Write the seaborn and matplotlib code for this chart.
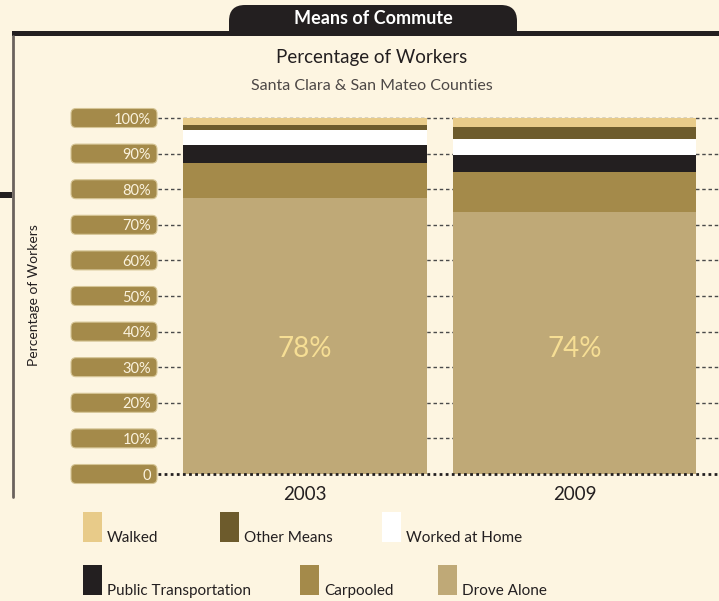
import numpy as np
import pandas as pd
import matplotlib.pyplot as plt
import seaborn as sns
from matplotlib.patches import FancyBboxPatch, Rectangle

# 数据
years = ['2003', '2009']
drove_alone = [77.6, 73.6]
carpooled = [9.9, 11.1]
public_transport = [4.8, 4.8]
worked_at_home = [4.2, 4.7]
other_means = [1.4, 3.4]
walked = [2.1, 2.4]

y_ticks = [0, 10, 20, 30, 40, 50, 60, 70, 80, 90, 100]
y_tick_labels = ['0', '10%', '20%', '30%', '40%', '50%', '60%', '70%', '80%', '90%', '100%']

# 从下往上的堆叠顺序
stack_order = ['Drove Alone', 'Carpooled', 'Public Transportation',
               'Worked at Home', 'Other Means', 'Walked']
series = {
    'Drove Alone': drove_alone,
    'Carpooled': carpooled,
    'Public Transportation': public_transport,
    'Worked at Home': worked_at_home,
    'Other Means': other_means,
    'Walked': walked,
}
colors = {
    'Walked': '#E8CB89',
    'Other Means': '#6D5B2C',
    'Worked at Home': '#FFFFFF',
    'Public Transportation': '#231F20',
    'Carpooled': '#A48A4A',
    'Drove Alone': '#BFA977',
}
legend_order = ['Walked', 'Other Means', 'Worked at Home',
                'Public Transportation', 'Carpooled', 'Drove Alone']

sns.set_style('white')
plt.rcParams['font.family'] = ['Lato', 'DejaVu Sans']

W, H = 719, 601
bg = '#FDF5E1'
dark = '#231F20'
fig = plt.figure(figsize=(W / 100, H / 100), dpi=100, facecolor=bg)

# 装饰层（像素坐标）
deco = fig.add_axes([0, 0, 1, 1], zorder=-1)
deco.set_xlim(0, W)
deco.set_ylim(H, 0)
deco.axis('off')

# 主图
y0_px, y100_px = 474, 118
ppu = (y0_px - y100_px) / 100
ax_bottom = y0_px + ppu
ax_top = y100_px - ppu
ax = fig.add_axes([158 / W, 1 - ax_bottom / H, 1 - 158 / W, (ax_bottom - ax_top) / H])
ax.patch.set_alpha(0)

cum = np.cumsum(np.array([series[m] for m in stack_order]), axis=0)
for i in reversed(range(len(stack_order))):
    sns.barplot(x=years, y=cum[i], color=colors[stack_order[i]], width=0.905,
                saturation=1, linewidth=0, errorbar=None, ax=ax, zorder=2)

for i, v in enumerate(drove_alone):
    ax.text(i, 35, f'{v:.0f}%', ha='center', va='center', fontsize=20,
            color='#F6DE94', zorder=4)

for t in y_ticks[1:]:
    ax.axhline(t, color='#4a4a4a', lw=1, ls=(0, (2.5, 2)), zorder=1)
ax.axhline(0, color=dark, lw=2, ls=(0, (1, 1.2)), zorder=3)

ax.set_ylim(-1, 101)
ax.set_xlim(-0.5455, 1.536)
ax.set_yticks(y_ticks)
ax.set_yticklabels(y_tick_labels, color='#FBF3DE', fontsize=10.5)
ax.tick_params(axis='y', length=0, pad=5)
ax.tick_params(axis='x', length=0, pad=6, labelsize=13.5, labelcolor=dark)
ax.set_xlabel('')
ax.set_ylabel('')
for s in ax.spines.values():
    s.set_visible(False)

# 刻度标签背景框
for t in y_ticks:
    y_px = H - ax.transData.transform((0, t))[1]
    deco.add_patch(FancyBboxPatch((71 + 5, y_px - 9.5 + 5), 86 - 10, 19 - 10,
                                  boxstyle='round,pad=5', fc='#A48A4A',
                                  ec='#D6C596', lw=0.8))

deco.text(34, 295, 'Percentage of Workers', rotation=90, ha='center', va='center',
          fontsize=10, color=dark)

# 外框与标题标签
deco.add_patch(FancyBboxPatch((229 + 16, 5 + 16), 288 - 32, 30, boxstyle='round,pad=16',
                              fc=dark, ec='none', zorder=1))
deco.add_patch(Rectangle((220, 36), 310, 50, fc=bg, ec='none', lw=0, zorder=2))
deco.add_patch(Rectangle((12, 31), W - 12, 5, fc=dark, ec='none', zorder=3))
deco.plot([13, 13], [36, 497], color='#6B625D', lw=2, zorder=3)
deco.add_patch(Rectangle((0, 192), 12, 6, fc=dark, ec='none', zorder=3))

deco.text(373, 19, 'Means of Commute', color='white', fontweight='bold', fontsize=13,
          ha='center', va='center', zorder=4)
deco.text(372, 58, 'Percentage of Workers', color=dark, fontsize=13.5,
          ha='center', va='center', zorder=4)
deco.text(372, 86, 'Santa Clara & San Mateo Counties', color='#4D4846', fontsize=11.5,
          ha='center', va='center', zorder=4)

# 图例
legend_pos = [(83, 512), (220, 512), (382, 512), (83, 565), (300, 565), (438, 565)]
for name, (lx, ly) in zip(legend_order, legend_pos):
    deco.add_patch(Rectangle((lx, ly), 19, 30, fc=colors[name], ec='none'))
    deco.text(lx + 24, ly + 26, name, fontsize=11, color=dark, ha='left', va='center')

fig.savefig('out.png', dpi=100, facecolor=bg)
